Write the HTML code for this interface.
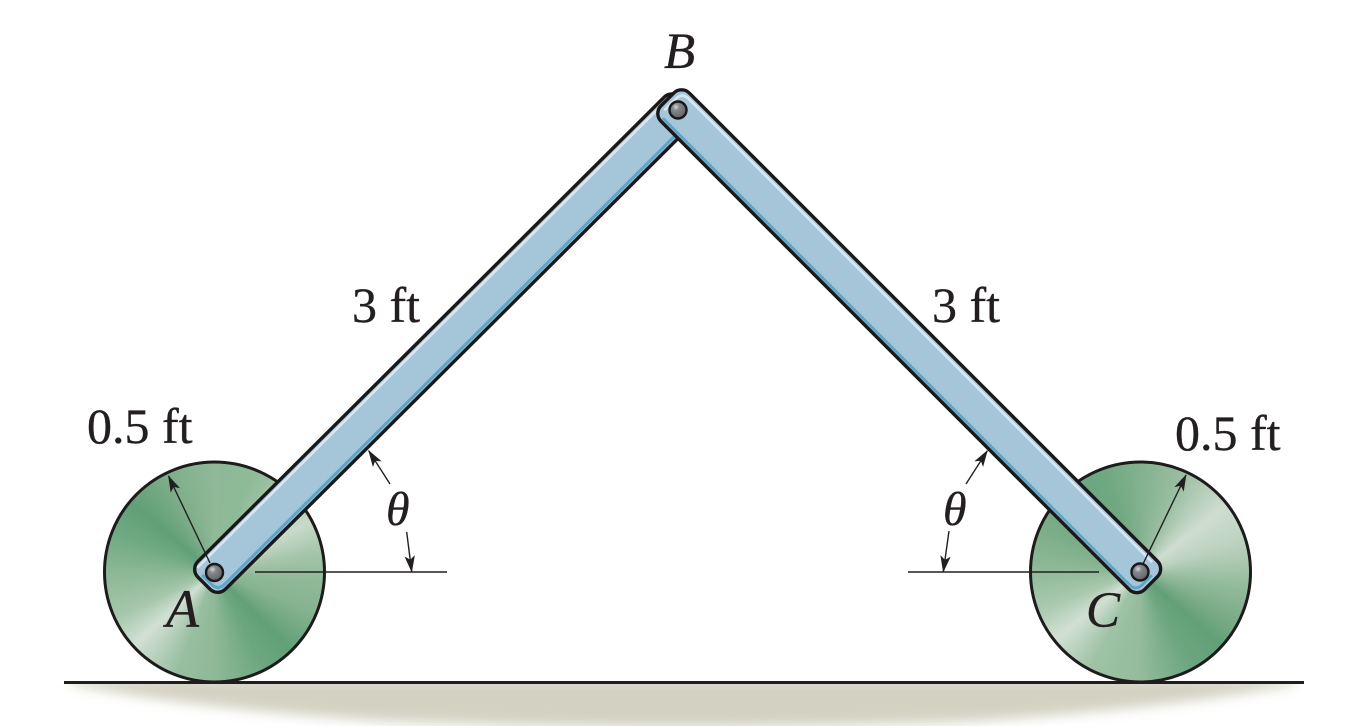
<!DOCTYPE html>
<html>
<head>
<meta charset="utf-8">
<style>
html,body{margin:0;padding:0;background:#fff;width:1362px;height:726px;overflow:hidden}
.wheel{position:absolute;top:461.5px;width:221px;height:221px;border-radius:50%}
#w1{left:104px;background:conic-gradient(from 0deg,#8fb998 0deg,#8dba97 20deg,#a9c9ae 45deg,#c8dacb 62deg,#a6c6ab 78deg,#8fb998 95deg,#86b391 112deg,#62a078 135deg,#6ba67f 152deg,#8fb998 180deg,#97bea0 200deg,#d2e0d4 228deg,#a5c6ab 246deg,#8cb795 270deg,#6fa983 292deg,#619f77 310deg,#7fae8b 335deg,#8fb998 360deg)}
#w2{left:1030px;background:conic-gradient(from 0deg,#83b18f 0deg,#98bd9f 22deg,#cfddd0 52deg,#bdd3c0 72deg,#93bb9c 98deg,#7fae8b 114deg,#62a078 132deg,#6ca680 152deg,#93bb9c 180deg,#9fc3a6 208deg,#d2e0d4 232deg,#a9c9ae 250deg,#8cb795 275deg,#7bad88 295deg,#6aa680 320deg,#6fa881 340deg,#83b18f 360deg)}
svg{position:absolute;left:0;top:0}
text{font-family:"Liberation Serif",serif;fill:#231f20;stroke:#231f20;stroke-width:.35}
.i{font-style:italic}
</style>
</head>
<body>
<div class="wheel" id="w1"></div>
<div class="wheel" id="w2"></div>
<svg width="1362" height="726" viewBox="0 0 1362 726" xmlns="http://www.w3.org/2000/svg">
<defs>
<filter id="b" x="-5%" y="-50%" width="110%" height="200%"><feGaussianBlur stdDeviation="6"/></filter>
<clipPath id="c"><rect x="0" y="684" width="1362" height="42"/></clipPath>
<marker id="ah" markerUnits="userSpaceOnUse" markerWidth="24" markerHeight="16" refX="20" refY="8" orient="auto" overflow="visible">
<path d="M21 8 L4 2.8 L8 8 L4 13.2 Z" fill="#231f20"/>
</marker>
<radialGradient id="p" cx=".38" cy=".32" r=".7">
<stop offset="0" stop-color="#d5d6d8"/>
<stop offset=".3" stop-color="#85878a"/>
<stop offset="1" stop-color="#606265"/>
</radialGradient>
</defs>

<!-- ground -->
<g clip-path="url(#c)">
<path d="M70 678 L1296 678 L1296 684 Q1160 710 960 722 Q680 732 400 722 Q200 710 70 684 Z" fill="#d3d2c2" filter="url(#b)"/>
</g>

<!-- wheel outlines -->
<circle cx="214.5" cy="572" r="110" fill="none" stroke="#1d1b1c" stroke-width="3"/>
<circle cx="1140.5" cy="572" r="110" fill="none" stroke="#1d1b1c" stroke-width="3"/>
<line x1="64" y1="682.5" x2="1304" y2="682.5" stroke="#1f1d1e" stroke-width="3"/>

<!-- horizontal reference lines -->
<line x1="255" y1="572" x2="447" y2="572" stroke="#231f20" stroke-width="1.4"/>
<line x1="908" y1="572" x2="1099" y2="572" stroke="#231f20" stroke-width="1.4"/>

<!-- left bar -->
<g transform="translate(214.5,572.5) rotate(-44.88)">
<rect x="-15" y="-19.5" width="680" height="39" rx="11" fill="#a5c5d9"/>
<path d="M-9 -15.5 L662 -15.5" stroke="#d8e7f0" stroke-width="2.6" fill="none"/>
<path d="M662 15.5 L-1 15.5 Q-10.5 15.5 -10.5 6 L-10.5 -7" stroke="#5ea5c8" stroke-width="3" fill="none"/>
<rect x="-15" y="-19.5" width="680" height="39" rx="11" fill="none" stroke="#1a1819" stroke-width="3.4"/>
</g>

<!-- right bar -->
<g transform="translate(678,110) rotate(45)">
<rect x="-15" y="-20" width="684" height="40" rx="11" fill="#a5c5d9"/>
<path d="M-9.5 10 L-9.5 -6 Q-9.5 -15.5 0 -15.5 L655 -15.5" stroke="#d8e7f0" stroke-width="2.6" fill="none"/>
<path d="M-5 16.5 L655 16.5 Q664 16.5 664 7 L664 -6" stroke="#5ea5c8" stroke-width="2.8" fill="none"/>
<rect x="-15" y="-20" width="684" height="40" rx="11" fill="none" stroke="#1a1819" stroke-width="3.4"/>
</g>

<!-- radius arrows -->
<line x1="210" y1="563" x2="168.5" y2="476" stroke="#231f20" stroke-width="1.4" marker-end="url(#ah)"/>
<line x1="1143" y1="564" x2="1186" y2="475" stroke="#231f20" stroke-width="1.4" marker-end="url(#ah)"/>

<!-- theta arrows -->
<line x1="390" y1="484" x2="368.7" y2="450.7" stroke="#231f20" stroke-width="1.4" marker-end="url(#ah)"/>
<line x1="406.7" y1="532" x2="411.7" y2="571.7" stroke="#231f20" stroke-width="1.4" marker-end="url(#ah)"/>
<line x1="966" y1="484" x2="987.3" y2="450.7" stroke="#231f20" stroke-width="1.4" marker-end="url(#ah)"/>
<line x1="949" y1="531" x2="943.3" y2="571.7" stroke="#231f20" stroke-width="1.4" marker-end="url(#ah)"/>

<!-- pins -->
<g stroke="#1a1819" stroke-width="2.4" fill="url(#p)">
<circle cx="214.5" cy="572.5" r="8.5"/>
<circle cx="678" cy="110" r="8.5"/>
<circle cx="1140" cy="572" r="8.5"/>
</g>

<!-- labels -->
<text x="87" y="443" font-size="50">0.5 ft</text>
<text x="1175" y="450" font-size="50">0.5 ft</text>
<text x="352" y="322" font-size="50">3 ft</text>
<text x="932" y="322" font-size="50">3 ft</text>
<text class="i" x="664" y="68" font-size="51">B</text>
<text class="i" x="166" y="627" font-size="54">A</text>
<text class="i" x="1086" y="627" font-size="51">C</text>
<text class="i" x="386" y="525" font-size="48">θ</text>
<text class="i" x="943" y="525" font-size="48">θ</text>
</svg>
</body>
</html>
